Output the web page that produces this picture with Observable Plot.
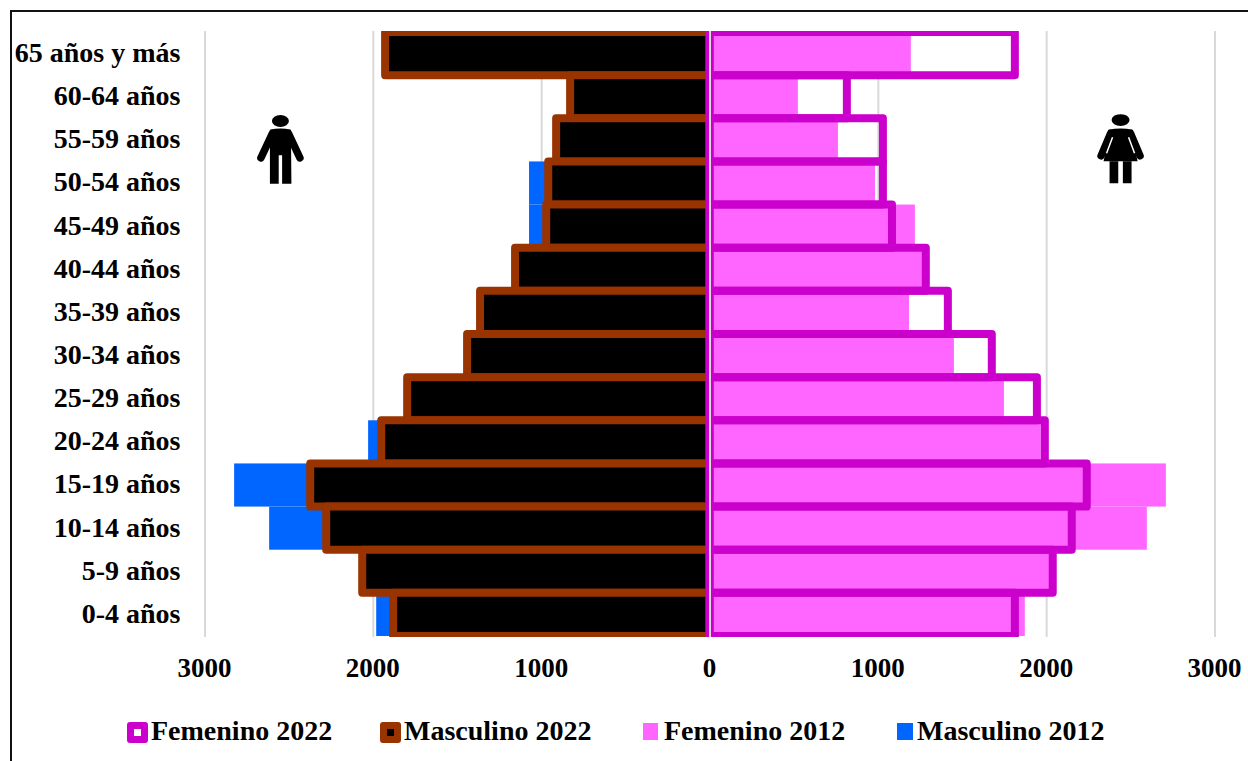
<!DOCTYPE html>
<html><head><meta charset="utf-8">
<script src="https://cdn.jsdelivr.net/npm/d3@7"></script>
<script src="https://cdn.jsdelivr.net/npm/@observablehq/plot@0.6"></script>
<style>
html,body{margin:0;padding:0;background:#fff;overflow:hidden;width:1248px;height:761px}
#frame{position:absolute;left:10px;top:10px;width:1300px;height:800px;border:2px solid #111;box-sizing:border-box;pointer-events:none}
#chart{position:absolute;left:0;top:0}
#legend{position:absolute;left:0;top:712px;width:1248px;height:40px;font:bold 28px "Liberation Serif",serif;color:#000}
.sw{position:absolute;top:10px;box-sizing:border-box}
.lb{position:absolute;top:2px;white-space:nowrap;line-height:34px}
</style></head><body>
<div id="chart"></div><div id="frame"></div>
<div id="legend">
<span class="sw" style="left:127px;width:21px;height:21px;background:#fff;border:7px solid #cc00cc;border-radius:3px"></span><span class="lb" style="left:151px">Femenino 2022</span>
<span class="sw" style="left:380px;width:21px;height:21px;background:#000;border:7px solid #993300;border-radius:3px"></span><span class="lb" style="left:404px">Masculino 2022</span>
<span class="sw" style="left:643px;top:11px;width:15px;height:17px;background:#ff66ff"></span><span class="lb" style="left:664px">Femenino 2012</span>
<span class="sw" style="left:897px;top:11px;width:16px;height:17px;background:#0066ff"></span><span class="lb" style="left:917px">Masculino 2012</span>
</div>
<script>
const ageGroups = ["65 años y más","60-64 años","55-59 años","50-54 años","45-49 años","40-44 años","35-39 años","30-34 años","25-29 años","20-24 años","15-19 años","10-14 años","5-9 años","0-4 años"];
const masculino2012 = [1850,800,880,1072,1072,1120,1330,1400,1750,2028,2824,2616,2000,1980];
const femenino2012  = [1196,525,763,983,1220,1274,1185,1452,1749,1968,2711,2598,2022,1873];
const masculino2022 = [1927,828,911,958,970,1155,1363,1440,1796,1950,2372,2277,2063,1879];
const femenino2022  = [1814,816,1030,1030,1084,1285,1416,1677,1945,1992,2241,2152,2039,1814];
const xTicks = [-3000,-2000,-1000,0,1000,2000,3000];

const neg = a => a.map((v,i)=>({age:ageGroups[i],v:-v}));
const pos = a => a.map((v,i)=>({age:ageGroups[i],v}));

const manSvg = `<svg xmlns="http://www.w3.org/2000/svg" width="48" height="70" viewBox="0 0 48 70"><ellipse cx="24" cy="6.7" rx="8.5" ry="6"/><path d="M13.5 15.5Q24 13 34.5 15.5L35 69.3H25.7V41H22.3V69.3H13.5Z"/><path d="M16 19L4.5 43.5M32 19L43.5 43.5" stroke="#000" stroke-width="7.5" stroke-linecap="round"/></svg>`;
const womanSvg = `<svg xmlns="http://www.w3.org/2000/svg" width="48" height="70" viewBox="0 0 48 70"><ellipse cx="24" cy="5.7" rx="9" ry="6"/><path d="M12 15.5Q24 13 36 15.5L36 22L41 47H7L12 22Z"/><path d="M14 19L4.5 41.5M34 19L43.5 41.5" stroke="#000" stroke-width="7.5" stroke-linecap="round"/><path d="M16 23L10 39M32 23L38 39" stroke="#fff" stroke-width="1.5"/><path d="M13 47H21.7V69H13ZM26.3 47H35V69H26.3Z"/></svg>`;
const uri = s => "data:image/svg+xml;utf8," + encodeURIComponent(s);

const chart = Plot.plot({
  width:1248, height:700,
  marginTop:31, marginBottom:63, marginLeft:205, marginRight:33,
  style:{background:"transparent",fontFamily:"'Liberation Serif',serif",fontWeight:"bold",fontSize:"27px",color:"#000",overflow:"visible"},
  x:{domain:[-3000,3000],range:[204.5,1214.5],label:null},
  y:{domain:ageGroups,range:[32,636],padding:0,round:false,label:null},
  marks:[
    Plot.gridX(xTicks.filter(d=>d!==0),{stroke:"#d9d9d9",strokeWidth:2,strokeOpacity:1}),
    Plot.barX(neg(masculino2012),{x:"v",y:"age",fill:"#0066ff",inset:0}),
    Plot.barX(pos(femenino2012),{x:"v",y:"age",fill:"#ff66ff",inset:0}),
    Plot.barX(neg(masculino2022),{x:"v",y:"age",fill:"#000",stroke:"#993300",strokeWidth:8,strokeLinejoin:"round",inset:0,clip:true}),
    Plot.barX(pos(femenino2022),{x:"v",y:"age",fill:"none",stroke:"#cc00cc",strokeWidth:8,strokeLinejoin:"round",inset:0,clip:true}),
    Plot.ruleX([0],{stroke:"#d9d9d9",strokeWidth:2}),
    Plot.image([{x:-2552,age:"55-59 años"}],{x:"x",y:"age",src:()=>uri(manSvg),width:48,height:70,dy:9}),
    Plot.image([{x:2439,age:"55-59 años"}],{x:"x",y:"age",src:()=>uri(womanSvg),width:48,height:70,dy:9}),
    Plot.axisY({tickSize:0,tickPadding:25,label:null,fontSize:28,dy:-1}),
    Plot.axisX({ticks:xTicks,tickFormat:d=>String(Math.abs(d)),tickSize:0,tickPadding:20,label:null,fontSize:27,dx:-0.5})
  ]
});
document.getElementById("chart").appendChild(chart);
</script>
</body></html>
